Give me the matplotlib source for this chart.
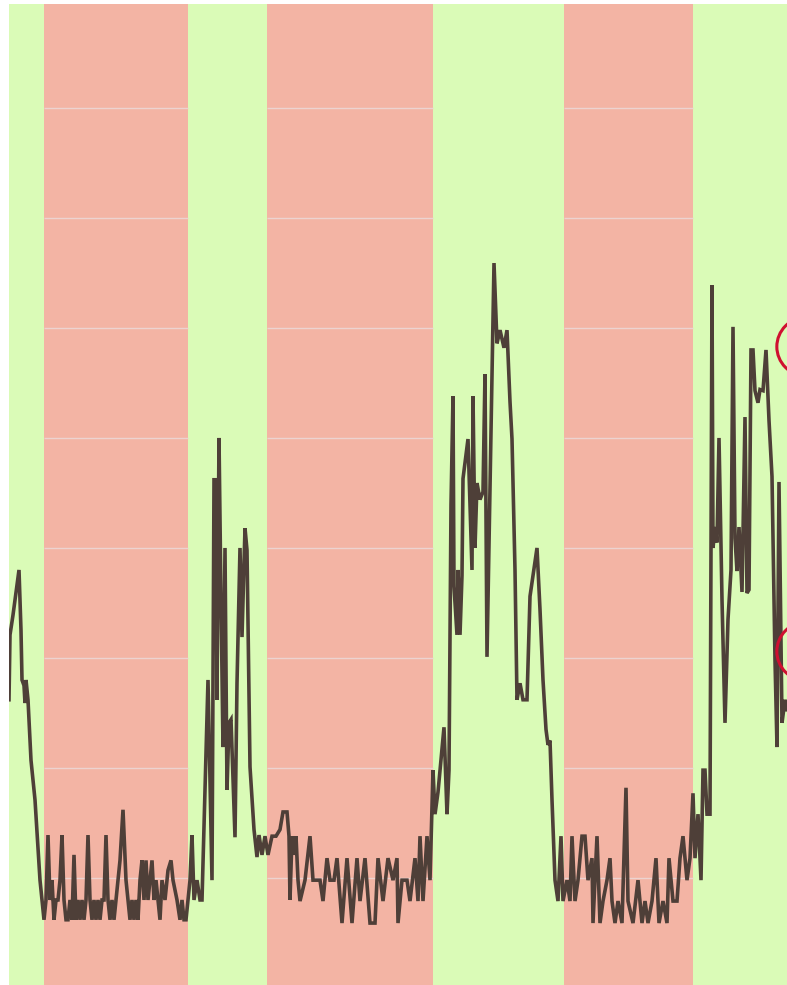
import numpy as np
import matplotlib
matplotlib.use("Agg")
import matplotlib.pyplot as plt

# shaded periods (start, end) on the time axis
bands_start = [35, 258, 555]
bands_end = [179, 424, 684]

# measured series
x = [0, 1, 4, 10, 12, 13, 15, 16, 17, 19, 22, 26, 31, 33, 35, 37, 39, 41, 43, 45,
     47, 49, 51, 53, 55, 57, 59, 61, 63, 65, 67, 69, 71, 73, 75, 77, 79, 81, 83, 85,
     87, 89, 91, 93, 95, 97, 99, 101, 103, 105, 107, 109, 111, 114, 117, 119, 121, 123, 125, 127,
     129, 131, 133, 135, 137, 139, 141, 143, 145, 147, 149, 151, 153, 156, 159, 162, 164, 166, 168, 171,
     173, 175, 177, 179, 181, 183, 185, 188, 191, 193, 199, 203, 205, 207, 208, 210, 212, 214, 216, 218,
     220, 222, 226, 228, 231, 233, 236, 238, 241, 245, 248, 250, 253, 256, 259, 263, 267, 271, 274, 278,
     280, 281, 283, 285, 287, 289, 291, 296, 301, 304, 308, 311, 314, 318, 321, 325, 328, 333, 338, 343,
     348, 351, 356, 361, 366, 369, 374, 379, 384, 388, 389, 393, 398, 401, 406, 409, 411, 414, 418, 421,
     424, 426, 429, 433, 435, 438, 440, 442, 444, 445, 448, 449, 451, 453, 454, 459, 463, 464, 466, 468,
     471, 474, 476, 478, 485, 488, 491, 495, 498, 501, 503, 506, 508, 511, 514, 518, 521, 528, 531, 534,
     537, 539, 541, 543, 546, 549, 552, 554, 558, 561, 563, 566, 569, 573, 576, 579, 583, 584, 588, 591,
     594, 598, 601, 603, 606, 609, 613, 617, 619, 624, 629, 633, 636, 639, 643, 647, 650, 654, 658, 660,
     664, 668, 671, 674, 678, 681, 684, 686, 689, 692, 694, 696, 698, 701, 703, 704, 706, 708, 710, 713,
     716, 719, 722, 724, 726, 728, 730, 733, 736, 738, 740, 742, 744, 746, 749, 751, 754, 757, 760, 763,
     766, 768, 770, 773, 776, 778]
y = [26.2, 32.1, 33.9, 38.0, 32.5, 28.0, 27.5, 25.9, 28.0, 26.2, 20.7, 17.1, 9.8, 8.0, 6.2, 8.0, 13.9, 8.0, 9.8, 6.2,
     8.0, 8.0, 9.8, 13.9, 8.0, 6.2, 6.2, 8.0, 6.2, 12.1, 6.2, 8.0, 6.2, 8.0, 6.2, 8.0, 13.9, 8.0, 6.2, 8.0,
     6.2, 8.0, 6.2, 8.0, 8.0, 13.9, 8.0, 6.2, 8.0, 6.2, 8.0, 9.8, 11.6, 16.2, 9.8, 8.0, 6.2, 8.0, 6.2, 8.0,
     6.2, 9.8, 11.6, 8.0, 11.6, 8.0, 9.8, 11.6, 8.0, 9.8, 8.0, 6.2, 9.8, 8.0, 10.7, 11.6, 9.8, 8.9, 8.0, 6.2,
     8.0, 6.2, 6.2, 8.0, 9.8, 13.9, 8.0, 9.8, 8.0, 8.0, 28.0, 9.8, 46.2, 46.2, 26.2, 50.0, 35.3, 21.9, 40.0, 18.0,
     24.1, 24.4, 13.7, 27.7, 40.0, 31.9, 41.8, 39.8, 20.1, 14.4, 11.9, 13.9, 12.1, 13.8, 12.1, 13.8, 13.8, 14.4, 16.0, 16.0,
     13.8, 8.0, 13.8, 12.1, 13.8, 9.8, 7.9, 9.8, 13.8, 9.8, 9.8, 9.8, 7.9, 11.8, 9.8, 9.8, 11.8, 5.9, 11.8, 5.9,
     11.8, 7.9, 11.8, 5.9, 5.9, 11.8, 7.9, 11.8, 9.8, 11.8, 5.9, 9.8, 9.8, 7.9, 11.8, 7.9, 13.8, 7.9, 13.8, 9.8,
     19.8, 15.8, 17.8, 21.7, 23.7, 15.8, 19.8, 43.9, 53.8, 36.5, 32.1, 38.0, 32.1, 37.5, 46.3, 49.9, 38.0, 53.8, 40.0, 45.9,
     44.4, 45.1, 55.8, 30.1, 65.9, 58.6, 59.8, 58.2, 59.8, 53.3, 49.9, 38.0, 26.2, 27.7, 26.2, 26.2, 35.6, 40.0, 34.4, 28.0,
     23.5, 22.1, 22.5, 17.1, 9.8, 7.9, 13.8, 7.9, 9.8, 7.9, 13.8, 7.9, 9.8, 13.8, 13.8, 9.8, 11.8, 5.9, 13.8, 5.9,
     7.9, 9.8, 11.8, 7.9, 5.9, 7.9, 5.9, 18.2, 7.9, 5.9, 9.8, 5.9, 7.9, 5.9, 7.9, 11.8, 5.9, 7.9, 5.9, 11.8,
     7.9, 7.9, 11.8, 13.8, 9.8, 11.8, 17.7, 11.8, 15.8, 9.8, 19.8, 19.8, 15.8, 15.8, 63.9, 40.0, 41.9, 40.5, 50.0, 35.3,
     24.1, 33.5, 38.0, 60.1, 40.9, 37.9, 41.9, 36.0, 51.9, 35.9, 36.2, 58.0, 58.0, 54.3, 53.2, 54.4, 54.3, 58.0, 51.6, 46.5,
     29.8, 21.9, 46.0, 24.1, 26.2, 25.3]

# flagged points (drawn just past the right edge)
flag_x = [797, 797]
flag_y = [58.3, 30.6]

grid_levels = [10, 20, 30, 40, 50, 60, 70, 80]

fig = plt.figure(figsize=(7.87, 9.85), dpi=100)
ax = fig.add_axes([9 / 787, 0, 778 / 787, 981 / 985])
ax.set_facecolor('#dafbb7')

for s, e in zip(bands_start, bands_end):
    ax.axvspan(s, e, color='#f3b4a4', lw=0, zorder=1)
    ax.hlines(grid_levels, s, e, colors='#ecd3d0', lw=1.0, zorder=2)

ax.plot(x, y, color='#4e3f38', lw=2.6, zorder=3, solid_joinstyle='miter')

ax.scatter(flag_x, flag_y, s=42 ** 2, facecolors='none', edgecolors='#cf1030',
           linewidths=2.2, clip_on=False, zorder=4)

ax.set_xlim(0, 778)
ax.set_ylim(0.27, 89.45)
ax.set_xticks([])
ax.set_yticks([])
for sp in ax.spines.values():
    sp.set_visible(False)

fig.savefig('out.png', dpi=100)
